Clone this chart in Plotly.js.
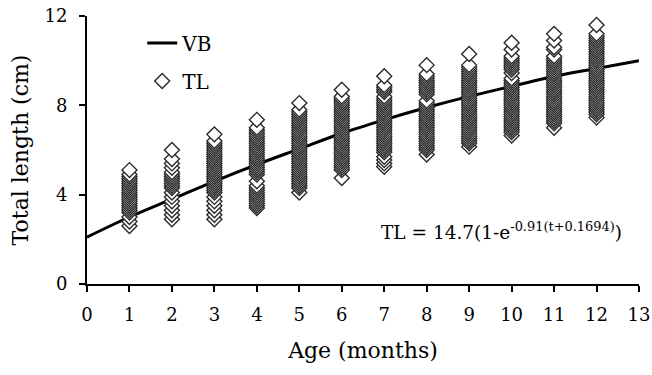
<!DOCTYPE html>
<html><head><meta charset="utf-8">
<script src="https://cdn.plot.ly/plotly-3.0.1.min.js"></script>
<style>html,body{margin:0;padding:0;background:#fff}#chart{width:652px;height:375px}</style>
</head><body><div id="chart"></div>
<script>
// VB growth curve
const vbAge = [0,1,2,3,4,5,6,7,8,9,10,11,12,13];
const vbTL  = [2.1,3.0,3.8,4.6,5.35,6.05,6.75,7.35,7.9,8.4,8.85,9.3,9.65,10.0];

// Observed total lengths (cm) per age (months)
const ages = [1,2,3,4,5,6,7,8,9,10,11,12];
const tl1 = [2.6,2.8,3.0,3.2,3.3,3.4,3.5,3.6,3.7,3.8,3.9,4.0,4.1,4.2,4.3,4.4,4.5,4.6,4.7,4.8,4.9,5.1];
const tl2 = [2.9,3.1,3.3,3.5,3.7,3.9,4.1,4.3,4.4,4.5,4.6,4.7,4.8,4.9,5.0,5.2,5.4,5.6,6.0];
const tl3 = [2.9,3.1,3.3,3.5,3.7,3.9,4.1,4.2,4.3,4.4,4.5,4.6,4.7,4.8,4.9,5.0,5.1,5.2,5.3,5.4,5.5,5.6,5.7,5.8,5.9,6.0,6.1,6.2,6.3,6.4,6.7];
const tl4 = [3.4,3.5,3.6,3.7,3.8,3.9,4.0,4.1,4.2,4.3,4.4,4.6,4.9,5.0,5.1,5.2,5.3,5.4,5.5,5.6,5.7,5.8,5.9,6.0,6.1,6.2,6.3,6.4,6.5,6.6,6.7,6.8,6.9,7.0,7.35];
const tl5 = [4.1,4.3,4.4,4.5,4.6,4.7,4.8,4.9,5.0,5.1,5.2,5.3,5.4,5.5,5.6,5.7,5.8,5.9,6.0,6.1,6.2,6.3,6.4,6.5,6.6,6.7,6.8,6.9,7.0,7.1,7.2,7.3,7.4,7.5,7.6,7.7,7.8,8.1];
const tl6 = [4.75,5.1,5.2,5.3,5.4,5.5,5.6,5.7,5.8,5.9,6.0,6.1,6.2,6.3,6.4,6.5,6.6,6.7,6.8,6.9,7.0,7.1,7.2,7.3,7.4,7.5,7.6,7.7,7.8,7.9,8.0,8.1,8.2,8.3,8.4,8.7];
const tl7 = [5.25,5.4,5.55,5.7,5.9,6.0,6.1,6.2,6.3,6.4,6.5,6.6,6.7,6.8,6.9,7.0,7.1,7.2,7.3,7.4,7.5,7.6,7.7,7.8,7.9,8.0,8.1,8.2,8.3,8.4,8.6,8.7,8.8,8.9,9.3];
const tl8 = [5.8,6.0,6.1,6.2,6.3,6.4,6.5,6.6,6.7,6.8,6.9,7.0,7.1,7.2,7.3,7.4,7.5,7.6,7.7,7.8,7.9,8.0,8.1,8.2,8.5,8.6,8.7,8.8,8.9,9.0,9.1,9.2,9.3,9.4,9.8];
const tl9 = [6.15,6.3,6.4,6.5,6.6,6.7,6.8,6.9,7.0,7.1,7.2,7.3,7.4,7.5,7.6,7.7,7.8,7.9,8.0,8.1,8.2,8.3,8.4,8.5,8.6,8.7,8.8,8.9,9.0,9.1,9.2,9.3,9.4,9.5,9.6,9.7,9.8,10.3];
const tl10 = [6.65,6.8,6.9,7.0,7.1,7.2,7.3,7.4,7.5,7.6,7.7,7.8,7.9,8.0,8.1,8.2,8.3,8.4,8.5,8.6,8.7,8.8,8.9,9.0,9.1,9.2,9.45,9.6,9.7,9.8,9.9,10.0,10.1,10.2,10.5,10.8];
const tl11 = [7.0,7.2,7.3,7.4,7.5,7.6,7.7,7.8,7.9,8.0,8.1,8.2,8.3,8.4,8.5,8.6,8.7,8.8,8.9,9.0,9.1,9.2,9.3,9.4,9.5,9.6,9.7,9.8,9.9,10.0,10.1,10.2,10.5,10.6,10.9,11.2];
const tl12 = [7.45,7.6,7.7,7.8,7.9,8.0,8.1,8.2,8.3,8.4,8.5,8.6,8.7,8.8,8.9,9.0,9.1,9.2,9.3,9.4,9.5,9.6,9.7,9.8,9.9,10.0,10.1,10.2,10.3,10.4,10.5,10.6,10.7,10.8,10.9,11.0,11.1,11.2,11.6];
const tlByAge = [tl1,tl2,tl3,tl4,tl5,tl6,tl7,tl8,tl9,tl10,tl11,tl12];

const xTickVals = [0,1,2,3,4,5,6,7,8,9,10,11,12,13];
const yTickVals = [0,4,8,12];

const sx = [], sy = [];
tlByAge.forEach((arr, i) => arr.forEach(v => { sx.push(ages[i]); sy.push(v); }));

const FONT = "'DejaVu Serif', serif";

const traces = [
  { x: vbAge, y: vbTL, type: 'scatter', mode: 'lines', name: 'VB', legendgroup: 'a',
    line: { color: '#000', width: 3, shape: 'spline' } },
  { x: sx, y: sy, type: 'scatter', mode: 'markers', name: 'TL', legendgroup: 'b', cliponaxis: false,
    marker: { symbol: 'diamond', size: 11.5, color: '#fff', line: { color: '#2a2a2a', width: 1.4 } } }
];

const layout = {
  width: 652, height: 375,
  margin: { l: 87, r: 13, t: 16, b: 91 },
  paper_bgcolor: '#fff', plot_bgcolor: '#fff',
  font: { family: FONT, color: '#000', size: 18 },
  showlegend: true,
  legend: { x: 0.1, y: 0.972, xanchor: 'left', yanchor: 'top', bgcolor: 'rgba(0,0,0,0)',
            font: { family: FONT, size: 20, color: '#000' }, traceorder: 'grouped', tracegroupgap: 9 },
  xaxis: {
    range: [0, 13], tickvals: xTickVals, ticks: 'outside', ticklen: 6, tickwidth: 2, tickcolor: '#000',
    showline: true, linecolor: '#000', linewidth: 2, showgrid: false, zeroline: false,
    ticklabelstandoff: 7, tickfont: { family: FONT, size: 18 },
    title: { text: 'Age (months)', font: { family: FONT, size: 22 }, standoff: 19 }
  },
  yaxis: {
    range: [0, 12], tickvals: yTickVals, ticks: 'outside', ticklen: 6, tickwidth: 2, tickcolor: '#000',
    showline: true, linecolor: '#000', linewidth: 2, showgrid: false, zeroline: false,
    ticklabelstandoff: 8, tickfont: { family: FONT, size: 18 },
    title: { text: 'Total length (cm)', font: { family: FONT, size: 22 }, standoff: 10 }
  },
  annotations: [{
    x: 9.75, y: 2.38, xref: 'x', yref: 'y', showarrow: false, xanchor: 'center', yanchor: 'middle',
    text: 'TL = 14.7(1-e<sup>-0.91(t+0.1694)</sup>)', font: { family: FONT, size: 18.5, color: '#000' }
  }]
};

Plotly.newPlot('chart', traces, layout, { displayModeBar: false, staticPlot: true });
</script>
</body></html>
